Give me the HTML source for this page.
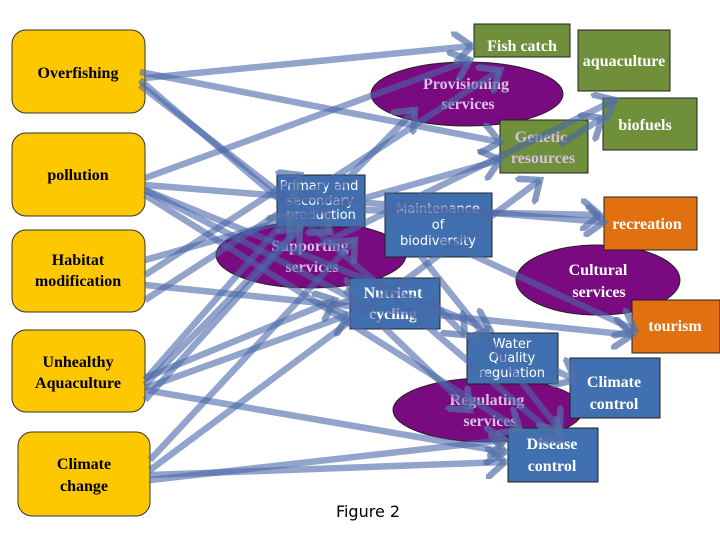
<!DOCTYPE html>
<html><head><meta charset="utf-8"><style>
html,body{margin:0;padding:0;background:#fff;width:720px;height:540px;overflow:hidden}
svg text{font-family:"Liberation Serif",serif;font-weight:bold}
.y{fill:#fec800;stroke:#333;stroke-width:1}
.g{fill:#6f8f3a;stroke:#222;stroke-width:1}
.b{fill:#4070b0;stroke:#222;stroke-width:1}
.o{fill:#e07010;stroke:#222;stroke-width:1}
.e{fill:#7a0a80;stroke:#222;stroke-width:1}
.tb{font-size:16px;fill:#000;text-anchor:middle}
.tw{font-size:16px;fill:#fff;text-anchor:middle}
.ts{font-family:"DejaVu Sans",sans-serif!important;font-weight:normal!important;font-size:13px;fill:#fff;text-anchor:middle}
.te{font-size:16px;fill:#d8c0e8;text-anchor:middle}
</style></head><body>
<svg width="720" height="540" viewBox="0 0 720 540" xmlns="http://www.w3.org/2000/svg">
<defs><marker id="a" markerWidth="5" markerHeight="5" refX="3" refY="2.5" orient="auto" markerUnits="strokeWidth"><path d="M0,0 L3,2.5 L0,5" fill="none" stroke="#5470a8" stroke-opacity="0.7" stroke-width="1"/></marker></defs>
<rect class="y" x="12" y="30" width="133" height="83" rx="14"/>
<rect class="y" x="12" y="133" width="133" height="83" rx="14"/>
<rect class="y" x="12" y="230" width="133" height="82" rx="14"/>
<rect class="y" x="12" y="330" width="133" height="82" rx="14"/>
<rect class="y" x="18" y="432" width="132" height="84" rx="14"/>
<text class="tb" x="78" y="78">Overfishing</text>
<text class="tb" x="78" y="180">pollution</text>
<text class="tb" x="78" y="265">Habitat</text><text class="tb" x="78" y="286">modification</text>
<text class="tb" x="78" y="367">Unhealthy</text><text class="tb" x="78" y="388">Aquaculture</text>
<text class="tb" x="84" y="469">Climate</text><text class="tb" x="84" y="491">change</text>

<ellipse class="e" cx="467" cy="94" rx="96" ry="32"/>
<ellipse class="e" cx="311" cy="255" rx="95" ry="33"/>
<ellipse class="e" cx="598" cy="280" rx="82" ry="35"/>
<ellipse class="e" cx="488" cy="410" rx="95" ry="32"/>
<rect class="g" x="474" y="24" width="96" height="33"/>
<rect class="g" x="578" y="30" width="92" height="61"/>
<rect class="g" x="603" y="98" width="94" height="52"/>
<rect class="g" x="500" y="120" width="88" height="53"/>
<rect class="b" x="277" y="175" width="88" height="52"/>
<rect class="b" x="385" y="193" width="107" height="64"/>
<rect class="o" x="604" y="197" width="93" height="53"/>
<rect class="b" x="350" y="278" width="90" height="51"/>
<rect class="o" x="632" y="300" width="88" height="53"/>
<rect class="b" x="467" y="333" width="91" height="51"/>
<rect class="b" x="570" y="358" width="90" height="60"/>
<rect class="b" x="508" y="428" width="90" height="54"/>

<text class="tw" x="522" y="51">Fish catch</text>
<text class="tw" x="624" y="66">aquaculture</text>
<text class="tw" x="645" y="130">biofuels</text>
<text class="te" x="466" y="89">Provisioning</text><text class="te" x="468" y="109">services</text>
<text class="te" x="541" y="142">Genetic</text><text class="te" x="543" y="163">resources</text>
<text class="ts" x="319" y="190">Primary and</text><text class="ts" x="320" y="205">secondary</text><text class="ts" x="321" y="219">production</text>
<text class="ts" x="438" y="213">Maintenance</text><text class="ts" x="438" y="229">of</text><text class="ts" x="438" y="245">biodiversity</text>
<text class="te" x="310" y="251">Supporting</text><text class="te" x="312" y="272">services</text>
<text class="tw" x="647" y="229">recreation</text>
<text class="tw" x="598" y="275">Cultural</text><text class="tw" x="599" y="297">services</text>
<text class="tw" x="393" y="298">Nutrient</text><text class="tw" x="393" y="319">cycling</text>
<text class="tw" x="675" y="331">tourism</text>
<text class="ts" x="512" y="348">Water</text><text class="ts" x="512" y="362">Quality</text><text class="ts" x="512" y="377">regulation</text>
<text class="tw" x="614" y="387">Climate</text><text class="tw" x="614" y="409">control</text>
<text class="te" x="487" y="405">Regulating</text><text class="te" x="490" y="426">services</text>
<text class="tw" x="552" y="449">Disease</text><text class="tw" x="552" y="471">control</text>
<text x="368" y="517" style="font-family:'DejaVu Sans',sans-serif;font-weight:normal;font-size:16px;text-anchor:middle">Figure 2</text>

<g stroke="#4a68a8" stroke-opacity="0.6" stroke-width="6.5" fill="none" marker-end="url(#a)">
<line x1="145" y1="78" x2="472" y2="46"/>
<line x1="140" y1="72" x2="500" y2="142"/>
<line x1="140" y1="85" x2="330" y2="232"/>
<line x1="140" y1="80" x2="560" y2="440"/>
<line x1="145" y1="178" x2="470" y2="60"/>
<line x1="145" y1="185" x2="604" y2="222"/>
<line x1="145" y1="195" x2="520" y2="430"/>
<line x1="145" y1="190" x2="355" y2="300"/>
<line x1="145" y1="190" x2="490" y2="330"/>
<line x1="145" y1="260" x2="500" y2="160"/>
<line x1="145" y1="285" x2="632" y2="335"/>
<line x1="145" y1="275" x2="300" y2="175"/>
<line x1="145" y1="300" x2="500" y2="70"/>
<line x1="145" y1="380" x2="290" y2="215"/>
<line x1="145" y1="385" x2="415" y2="110"/>
<line x1="145" y1="388" x2="348" y2="315"/>
<line x1="145" y1="378" x2="335" y2="300"/>
<line x1="145" y1="390" x2="505" y2="452"/>
<line x1="145" y1="400" x2="300" y2="228"/>
<line x1="150" y1="475" x2="505" y2="462"/>
<line x1="150" y1="470" x2="540" y2="180"/>
<line x1="150" y1="480" x2="505" y2="440"/>
<line x1="150" y1="460" x2="355" y2="240"/>
<line x1="320" y1="245" x2="615" y2="100"/>
<line x1="560" y1="145" x2="602" y2="118"/>
<line x1="440" y1="240" x2="635" y2="330"/>
<line x1="430" y1="300" x2="465" y2="335"/>
<line x1="420" y1="255" x2="560" y2="430"/>
<line x1="345" y1="290" x2="470" y2="410"/>
<line x1="360" y1="210" x2="600" y2="215"/>
<line x1="555" y1="370" x2="575" y2="380"/>
</g>
</svg>
</body></html>
